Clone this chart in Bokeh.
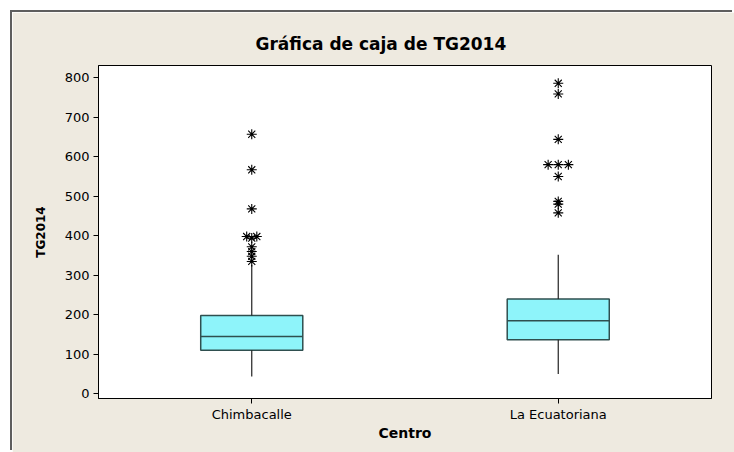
from collections import Counter

from bokeh.plotting import figure
from bokeh.models import FixedTicker, Range1d
from bokeh.embed import file_html
from bokeh.resources import INLINE

# Boxplot summary per centre
centros = ["Chimbacalle", "La Ecuatoriana"]
q1 = [110, 137]
mediana = [145, 185]
q3 = [198, 240]
bigote_inf = [44, 50]
bigote_sup = [326, 352]

# Outliers (equal values are spread side by side)
atipicos = {
    "Chimbacalle": [657, 567, 468, 398, 398, 394, 372, 360, 348, 335],
    "La Ecuatoriana": [786, 759, 644, 580, 580, 580, 550, 487, 480, 458],
}

y_ticks = [0, 100, 200, 300, 400, 500, 600, 700, 800]

FONT = "DejaVu Sans"
BEIGE = "#EEEAE0"
CAJA = "#8EF4FA"
BORDE = "#2F4F4F"

p = figure(
    width=722, height=440,
    x_range=Range1d(0, 2), y_range=Range1d(-12, 831),
    output_backend="svg", toolbar_location=None,
    min_border_left=86, min_border_right=23,
    min_border_top=53, min_border_bottom=54,
)
p.margin = (12, 0, -30, 12)
p.styles = {"box-shadow": "-2px -2px 0 0 #5E5E5E"}

p.background_fill_color = "white"
p.border_fill_color = BEIGE
p.outline_line_color = "black"
p.outline_line_width = 1
p.xgrid.visible = False
p.ygrid.visible = False

p.title.text = "Gráfica de caja de TG2014"
p.title.align = "left"
p.title.offset = 157
p.title.text_font = FONT
p.title.text_font_style = "bold"
p.title.text_font_size = "17px"
p.title.text_color = "black"
p.title.standoff = 24

xs = [i + 0.5 for i in range(len(centros))]
half = 0.1665

# Boxes and medians
p.quad(left=[x - half for x in xs], right=[x + half for x in xs],
       bottom=q1, top=q3, fill_color=CAJA, line_color=BORDE, line_width=1.5)
p.segment(x0=[x - half for x in xs], x1=[x + half for x in xs],
          y0=mediana, y1=mediana, line_color=BORDE, line_width=1.5)

# Whiskers
p.segment(x0=xs, x1=xs, y0=q1, y1=bigote_inf, line_color="#222222", line_width=1.2)
p.segment(x0=xs, x1=xs, y0=q3, y1=bigote_sup, line_color="#222222", line_width=1.2)

# Outlier asterisks
paso = 0.033
ox, oy = [], []
for x, c in zip(xs, centros):
    vals = atipicos[c]
    cnt = Counter(vals)
    seen = Counter()
    for v in vals:
        n = cnt[v]
        k = seen[v]
        seen[v] += 1
        ox.append(x + (k - (n - 1) / 2) * paso)
        oy.append(v)
p.scatter(ox, oy, marker="asterisk", size=10, line_color="black", line_width=1.1)

# Axes
p.xaxis.ticker = FixedTicker(ticks=xs)
p.xaxis.major_label_overrides = {x: c for x, c in zip(xs, centros)}
p.yaxis.ticker = FixedTicker(ticks=y_ticks)
for ax in (p.xaxis[0], p.yaxis[0]):
    ax.major_tick_in = 0
    ax.major_tick_out = 5
    ax.minor_tick_line_color = None
    ax.axis_line_color = "black"
    ax.major_tick_line_color = "black"
    ax.major_label_text_font = FONT
    ax.major_label_text_font_size = "13px"
    ax.major_label_text_color = "black"
    ax.axis_label_text_font = FONT
    ax.axis_label_text_font_style = "bold"
    ax.axis_label_text_color = "black"

p.xaxis.axis_label = "Centro"
p.yaxis.axis_label = "TG2014"
p.xaxis.axis_label_text_font_size = "14px"
p.yaxis.axis_label_text_font_size = "12px"
p.xaxis.major_label_standoff = 3
p.xaxis.axis_label_standoff = 0
p.yaxis.major_label_standoff = 4
p.yaxis.axis_label_standoff = 14

open("out.html", "w").write(file_html(p, INLINE))
